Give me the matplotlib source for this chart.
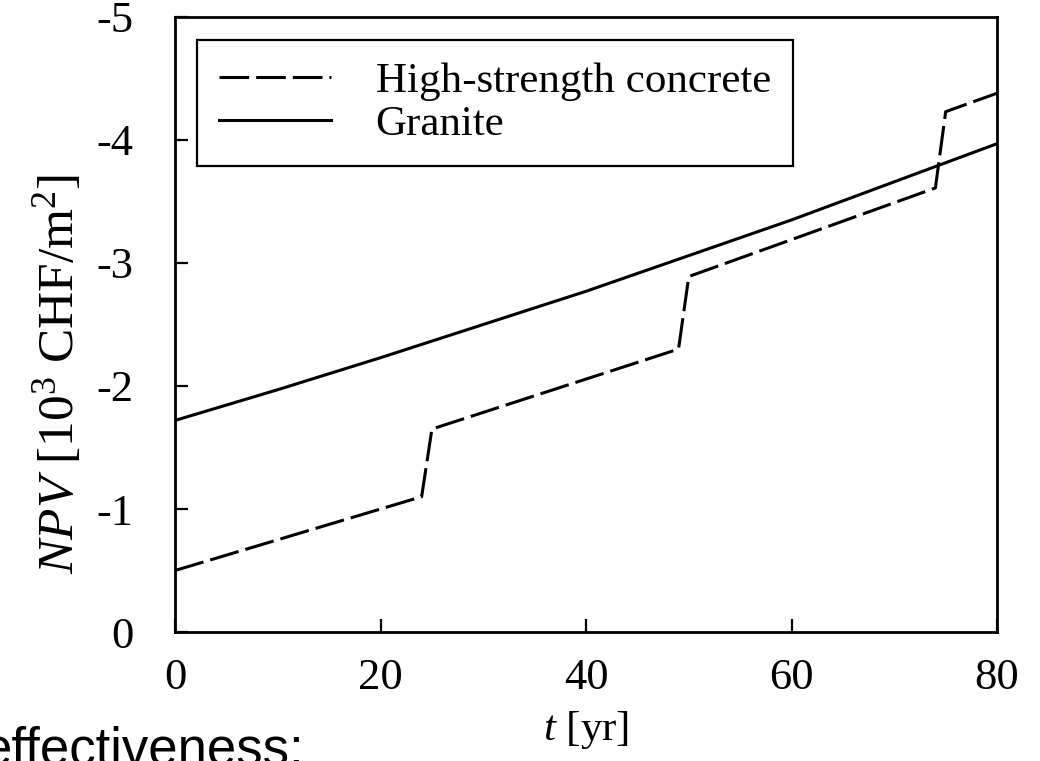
import matplotlib
matplotlib.use("Agg")
import matplotlib.pyplot as plt

plt.rcParams['font.family'] = ['Liberation Serif', 'DejaVu Serif']
plt.rcParams['mathtext.fontset'] = 'custom'
plt.rcParams['mathtext.rm'] = 'Liberation Serif'
plt.rcParams['mathtext.it'] = 'Liberation Serif:italic'
plt.rcParams['axes.unicode_minus'] = False

# NPV curves (values in 10^3 CHF/m^2)
t_concrete = [0, 24, 25, 49, 50, 74, 75, 80]
npv_concrete = [-0.50, -1.10, -1.65, -2.30, -2.89, -3.61, -4.23, -4.38]

t_granite = [0, 10, 20, 30, 40, 50, 60, 70, 80]
npv_granite = [-1.72, -1.97, -2.23, -2.50, -2.77, -3.06, -3.35, -3.66, -3.97]

x_ticks = [0, 20, 40, 60, 80]
y_ticks = [0, -1, -2, -3, -4, -5]

fig = plt.figure(figsize=(10.4, 7.61), dpi=100)
ax = fig.add_axes([0.1683, 0.1695, 0.7904, 0.8082])

ax.plot(t_concrete, npv_concrete, color='black', lw=2.2,
        linestyle=(0, (9.7, 2.3)), label='High-strength concrete')
ax.plot(t_granite, npv_granite, color='black', lw=2.2, label='Granite')

ax.set_xlim(0, 80)
ax.set_ylim(0, -5)
ax.set_xticks(x_ticks)
ax.set_yticks(y_ticks)
ax.set_yticklabels([str(v) for v in y_ticks])

for s in ax.spines.values():
    s.set_linewidth(2.0)
ax.tick_params(direction='in', length=9.5, width=1.6, labelsize=32,
               top=False, right=False)
ax.tick_params(axis='y', pad=30)
ax.tick_params(axis='x', pad=19)

ax.set_xlabel(r'$t$ [yr]', fontsize=31)
ax.xaxis.set_label_coords(0.5, -0.125)
ax.set_ylabel(r'$NPV$ [10$^3$ CHF/m$^2$]', fontsize=37)
ax.yaxis.set_label_coords(-0.111, 0.42)

leg = ax.legend(loc='upper left', bbox_to_anchor=(0.0268, 0.9626),
                borderaxespad=0, fontsize=31, handlelength=2.6,
                handletextpad=1.05, borderpad=0.5, labelspacing=0.1,
                fancybox=False, framealpha=1, edgecolor='black')
leg.get_frame().set_linewidth(1.6)

fig.text(-0.017, -0.005, 'effectiveness:', fontsize=38,
         family=['Liberation Sans', 'DejaVu Sans'], va='baseline', ha='left')

fig.savefig('out.png', dpi=100)
